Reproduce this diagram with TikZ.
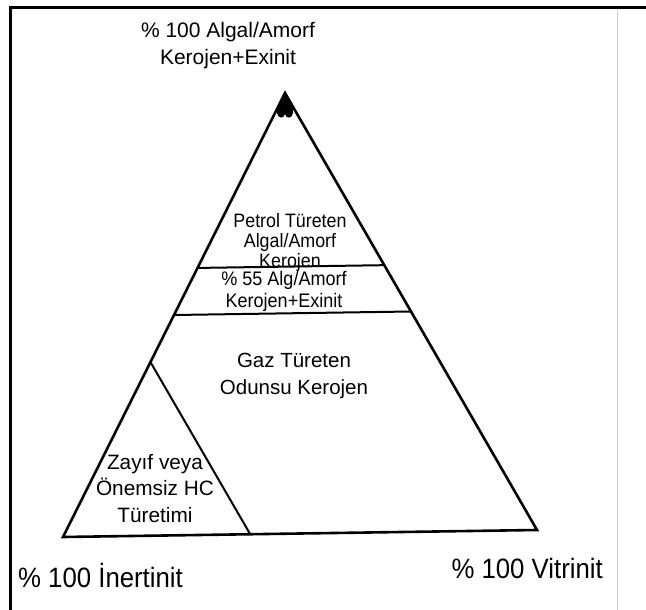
\documentclass[tikz,border=0pt]{standalone}
\usepackage{fontspec}
\usetikzlibrary{calc}
\setmainfont{Liberation Sans}
\newfontfamily\condfont{Liberation Sans}[FakeStretch=0.92]
\begin{document}
\begin{tikzpicture}[x=1pt,y=-1pt,
  edge/.style={line width=2.6pt, line join=miter},
  band/.style={line width=2pt},
  lbl/.style={inner sep=0pt, align=center, anchor=base}]
\useasboundingbox (0,0) rectangle (646,610);
\fill[white] (0,0) rectangle (646,610);
% frame
\draw[line width=3.5pt] (10.5,610) -- (10.5,7.5) -- (646,7.5);
\draw[black!20, line width=0.8pt] (617,9) -- (617,610);
% triangle
\coordinate (A) at (285,93);
\coordinate (B) at (63,537);
\coordinate (C) at (537,530);
\draw[edge] (A) -- (B) -- (C) -- cycle;
% apex blob
\fill (285,91) .. controls (281,99) and (276,107) .. (277,113)
  .. controls (278,119) and (284,119) .. (285,114)
  .. controls (286,119) and (292,119) .. (293,113)
  .. controls (294,107) and (289,99) .. cycle;
% horizontal bands
\coordinate (L1a) at ($(A)!0.394!(B)$);
\coordinate (L1b) at ($(A)!0.394!(C)$);
\coordinate (L2a) at ($(A)!0.5!(B)$);
\coordinate (L2b) at ($(A)!0.5!(C)$);
\draw[band] (L1a) -- (L1b);
\draw[band] (L2a) -- (L2b);
% inner triangle
\coordinate (S) at ($(A)!0.606!(B)$);
\coordinate (T) at ($(B)!0.395!(C)$);
\draw[band] (S) -- (T);
% labels (anchor = baseline of last line)
\node[lbl, font=\fontsize{21}{28}\selectfont] (top) at (228,65) {\% 100 Algal/Amorf\\Kerojen+Exinit};
\node[lbl, font=\condfont\fontsize{19.4}{20}\selectfont] (petrol) at (290,267) {Petrol Türeten\\Algal/Amorf\\Kerojen};
\node[lbl, font=\condfont\fontsize{19.6}{22}\selectfont] (alg) at (284,307) {\% 55 Alg/Amorf\\Kerojen+Exinit};
\node[lbl, font=\fontsize{20.5}{27}\selectfont] (gaz) at (294,394) {Gaz Türeten\\Odunsu Kerojen};
\node[lbl, font=\fontsize{20.8}{26.5}\selectfont] (zayif) at (155,522) {Zayıf veya\\Önemsiz HC\\Türetimi};
\node[inner sep=0pt, anchor=base west, font=\condfont\fontsize{28}{32}\selectfont] (inert) at (18,587) {\% 100 İnertinit};
\node[inner sep=0pt, anchor=base east, font=\condfont\fontsize{28}{32}\selectfont] (vitr) at (603,578) {\% 100 Vitrinit};
\end{tikzpicture}
\end{document}
